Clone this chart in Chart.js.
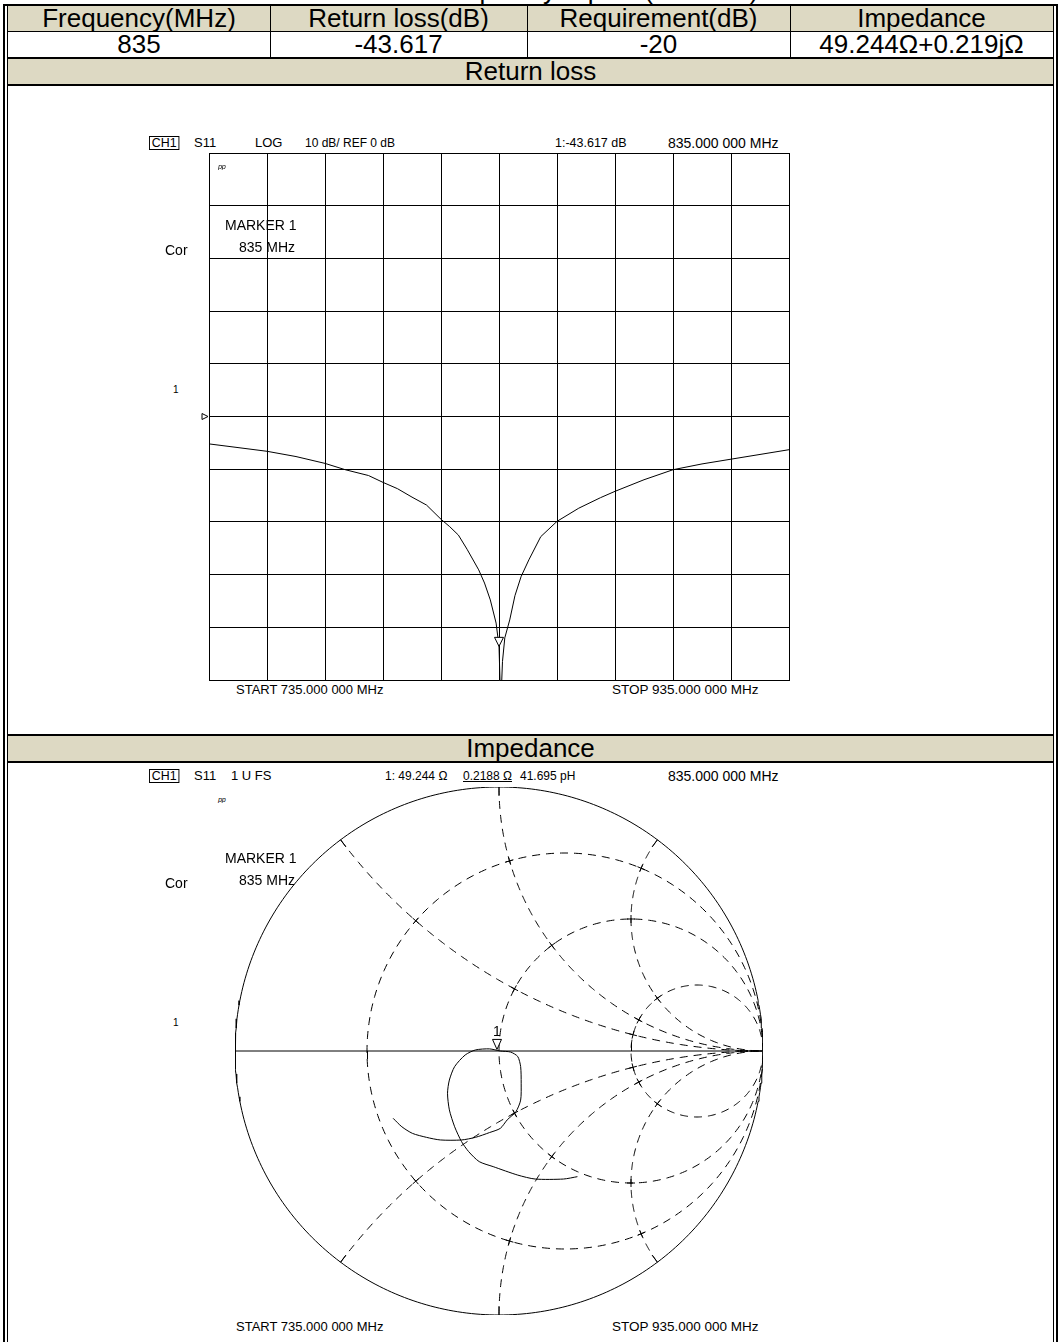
<!DOCTYPE html>
<html>
<head>
<meta charset="utf-8">
<title>Return loss and impedance</title>
<script src="https://cdn.jsdelivr.net/npm/chart.js@4.4.1/dist/chart.umd.min.js"></script>
<style>
  html, body { margin: 0; padding: 0; background: #fff; }
  #page { position: relative; width: 1059px; height: 1342px; overflow: hidden; font-family: "Liberation Sans", Arial, sans-serif; color: #000; }
  .box { position: absolute; box-sizing: border-box; }
  .line { position: absolute; background: #000; }
  .cell { position: absolute; display: flex; align-items: center; justify-content: center; font-size: 26px; white-space: nowrap; overflow: visible; }
  .tan { background: #ddd9c3; }
  .txt { position: absolute; font-size: 14px; line-height: 16px; white-space: nowrap; }
  canvas { position: absolute; }
</style>
</head>
<body>
<div id="page">
  <canvas id="rl" width="596" height="531" style="left:195px;top:151px"></canvas>
  <canvas id="smith" width="532" height="532" style="left:233px;top:785px"></canvas>
</div>
<script>
// table
var title = "Return loss plot by Dipole (835MHz)";
var headers = ["Frequency(MHz)", "Return loss(dB)", "Requirement(dB)", "Impedance"];
var values = ["835", "-43.617", "-20", "49.244Ω+0.219jΩ"];
var sections = ["Return loss", "Impedance"];

// return loss trace (MHz, dB)
var rlFreq = [735, 745, 755, 765, 775, 782, 790, 795, 800, 805, 810, 815, 818, 821, 824, 828, 830, 832, 834, 835,
  835.6, 836.2, 837, 838.7, 840.5, 842.6, 845.3, 849.4, 855, 862.5, 870, 875, 885, 895, 905, 915, 925, 935];
var rlDb = [-5.2, -5.9, -6.6, -7.6, -8.9, -10.1, -11.2, -12.5, -13.7, -15.3, -16.8, -19.5, -20.9, -22.5, -25.2, -29.1, -31.6, -34.8, -39.2, -43.6,
  -55, -46.5, -42.0, -38.6, -34.0, -30.4, -27.2, -22.8, -19.9, -17.4, -15.4, -14.2, -12.0, -10.1, -9.0, -8.1, -7.2, -6.3];
var markerFreq = 835;
var markerDb = -43.617;
var refDb = 0;

// smith trace (reflection coefficient, 735 -> 935 MHz)
var smithRe = [0.297, 0.244, 0.137, 0.071, -0.022, -0.075, -0.115, -0.142, -0.168, -0.188, -0.195, -0.188, -0.168, -0.128, -0.089, -0.036, 0.005,
  0.044, 0.071, 0.082, 0.084, 0.082, 0.064, 0.031, 0.005, -0.036, -0.089, -0.142, -0.222, -0.275, -0.328, -0.368, -0.401];
var smithIm = [-0.476, -0.485, -0.485, -0.470, -0.438, -0.419, -0.381, -0.343, -0.287, -0.223, -0.160, -0.110, -0.059, -0.015, 0.004, 0.008, 0.000,
  -0.004, -0.021, -0.059, -0.122, -0.186, -0.230, -0.261, -0.293, -0.309, -0.327, -0.337, -0.337, -0.327, -0.312, -0.287, -0.255];
var markerZ = [49.244, 0.219];
var z0 = 50;

// smith grid values
var rCircles = [1 / 3, 1, 3];
var xArcs = [0.5, 1, 2, -0.5, -1, -2];

var page = document.getElementById('page');
function add(cls, css, text) {
  var d = document.createElement('div');
  d.className = cls;
  d.style.cssText = css;
  if (text !== undefined) d.textContent = text;
  page.appendChild(d);
  return d;
}
function txt(s, x, y, size, extra) {
  return add('txt', 'left:' + x + 'px;top:' + (y - 8) + 'px;font-size:' + (size || 14) + 'px;' + (extra || ''), s);
}
function chBox(x, y) {
  txt('CH1', x, y, 13, 'top:' + (y - 7) + 'px;border:1px solid #000;line-height:12px;padding:0 2px;transform:scaleX(0.95);transform-origin:left center;');
}

// title, cut by the top edge
add('box', 'left:20px;top:-23px;width:1059px;height:26px;line-height:26px;font-size:26px;text-align:center;white-space:nowrap;', title);

// table cells
var colX = [8, 270, 527, 790, 1053];
add('box tan', 'left:8px;top:6px;width:1045px;height:25px');
headers.forEach(function (h, i) {
  add('cell', 'left:' + colX[i] + 'px;top:6px;width:' + (colX[i + 1] - colX[i]) + 'px;height:25px', h);
});
values.forEach(function (v, i) {
  add('cell', 'left:' + colX[i] + 'px;top:32px;width:' + (colX[i + 1] - colX[i]) + 'px;height:25px', v);
});
add('cell tan', 'left:8px;top:59px;width:1045px;height:25px', sections[0]);
add('cell tan', 'left:8px;top:736px;width:1045px;height:25px', sections[1]);

// borders
add('line', 'left:3px;top:4px;width:1055px;height:2px');
add('line', 'left:3px;top:4px;width:2px;height:1338px');
add('line', 'left:7px;top:6px;width:1px;height:1336px');
add('line', 'left:1053px;top:6px;width:1px;height:1336px');
add('line', 'left:1056px;top:4px;width:2px;height:1338px');
add('line', 'left:8px;top:31px;width:1045px;height:1px');
add('line', 'left:8px;top:57px;width:1045px;height:2px');
add('line', 'left:8px;top:84px;width:1045px;height:2px');
add('line', 'left:8px;top:734px;width:1045px;height:2px');
add('line', 'left:8px;top:761px;width:1045px;height:2px');
colX.slice(1, 4).forEach(function (x) {
  add('line', 'left:' + x + 'px;top:6px;width:1px;height:52px');
});

// ---- return loss chart ----
var rlMarks = {
  id: 'rlMarks',
  afterDatasetsDraw: function (chart) {
    var c = chart.ctx, xs = chart.scales.x, ys = chart.scales.y;
    var px = xs.getPixelForValue(markerFreq), py = ys.getPixelForValue(markerDb);
    c.save();
    c.strokeStyle = '#000';
    c.fillStyle = '#fff';
    c.lineWidth = 1;
    c.beginPath();
    c.moveTo(px - 4.5, py - 9);
    c.lineTo(px + 4.5, py - 9);
    c.lineTo(px, py);
    c.closePath();
    c.fill();
    c.stroke();
    // reference position marker
    var ry = ys.getPixelForValue(refDb), lx = chart.chartArea.left;
    c.beginPath();
    c.moveTo(lx - 7, ry - 3);
    c.lineTo(lx - 7, ry + 3);
    c.lineTo(lx - 1, ry);
    c.closePath();
    c.stroke();
    c.restore();
  }
};

var gridOpts = { color: '#000', lineWidth: 1, drawTicks: false };
var rlChart = new Chart(document.getElementById('rl'), {
  type: 'line',
  data: {
    datasets: [{
      data: rlFreq.map(function (f, i) { return { x: f, y: rlDb[i] }; }),
      borderColor: '#000',
      borderWidth: 1,
      pointRadius: 0,
      tension: 0
    }]
  },
  options: {
    responsive: false,
    animation: false,
    devicePixelRatio: 1,
    layout: { padding: { left: 14, top: 2, right: 2, bottom: 2 } },
    plugins: { legend: { display: false }, tooltip: { enabled: false } },
    scales: {
      x: { type: 'linear', min: 735, max: 935, ticks: { display: false, stepSize: 20 }, grid: gridOpts, border: { color: '#000', width: 1 } },
      y: { type: 'linear', min: -50, max: 50, ticks: { display: false, stepSize: 10 }, grid: gridOpts, border: { color: '#000', width: 1 } }
    }
  },
  plugins: [rlMarks]
});

// ---- smith chart ----
function rCirclePts(r) {
  var pts = [];
  for (var k = 0; k <= 360; k++) {
    var a = k * Math.PI / 180;
    pts.push({ x: r / (1 + r) + Math.cos(a) / (1 + r), y: Math.sin(a) / (1 + r) });
  }
  return pts;
}
function xArcPts(x) {
  var pts = [];
  for (var k = 0; k <= 240; k++) {
    var r = Math.tan(k / 240 * Math.PI / 2 * 0.9995);
    var d = (r + 1) * (r + 1) + x * x;
    pts.push({ x: (r * r + x * x - 1) / d, y: 2 * x / d });
  }
  return pts;
}
function gammaRX(r, x) {
  var d = (r + 1) * (r + 1) + x * x;
  return { x: (r * r + x * x - 1) / d, y: 2 * x / d };
}
var dashed = { borderColor: '#000', borderWidth: 1, borderDash: [8, 6], pointRadius: 0, showLine: true, fill: false };
var smithSets = [];
rCircles.forEach(function (r) { smithSets.push(Object.assign({ data: rCirclePts(r) }, dashed)); });
xArcs.forEach(function (x) { smithSets.push(Object.assign({ data: xArcPts(x) }, dashed)); });
smithSets.push({ data: rCirclePts(0), borderColor: '#000', borderWidth: 1, pointRadius: 0, showLine: true });
smithSets.push({ data: [{ x: -1, y: 0 }, { x: 1, y: 0 }], borderColor: '#000', borderWidth: 1, pointRadius: 0, showLine: true });
smithSets.push({
  data: smithRe.map(function (v, i) { return { x: v, y: smithIm[i] }; }),
  borderColor: '#000', borderWidth: 1, pointRadius: 0, showLine: true, tension: 0.25
});

var mg = gammaRX(markerZ[0] / z0, markerZ[1] / z0);

var smithMarks = {
  id: 'smithMarks',
  afterDatasetsDraw: function (chart) {
    var c = chart.ctx, xs = chart.scales.x, ys = chart.scales.y;
    function P(g) { return { x: xs.getPixelForValue(g.x), y: ys.getPixelForValue(g.y) }; }
    function seg(p, centre, len) {
      // short solid piece along the curve whose centre is given
      var vx = p.x - centre.x, vy = p.y - centre.y, n = Math.hypot(vx, vy);
      var tx = -vy / n * len, ty = vx / n * len;
      c.moveTo(p.x - tx, p.y - ty);
      c.lineTo(p.x + tx, p.y + ty);
    }
    c.save();
    c.strokeStyle = '#000';
    c.lineWidth = 1;
    c.beginPath();
    var o = P({ x: 0, y: 0 });
    // radial ticks where reactance arcs meet the rim
    xArcs.forEach(function (x) {
      var p = P(gammaRX(0, x)), n = Math.hypot(p.x - o.x, p.y - o.y);
      c.moveTo(p.x, p.y);
      c.lineTo(p.x - (p.x - o.x) / n * 9, p.y - (p.y - o.y) / n * 9);
    });
    // ticks on the real axis at the resistance circles
    rCircles.forEach(function (r) {
      var g = (r - 1) / (r + 1);
      if (Math.abs(g) < 1e-9) return;
      var p = P({ x: g, y: 0 }), px = Math.round(p.x) + 0.5;
      c.moveTo(px, p.y);
      c.lineTo(px, p.y + (g < 0 ? 8 : -8));
    });
    // small solid crosses at grid intersections
    rCircles.forEach(function (r) {
      xArcs.forEach(function (x) {
        var p = P(gammaRX(r, x));
        seg(p, P({ x: r / (1 + r), y: 0 }), 4);
        seg(p, P({ x: 1, y: 1 / x }), 4);
      });
    });
    c.stroke();
    // marker 1
    var m = P(mg);
    c.fillStyle = '#fff';
    c.beginPath();
    c.moveTo(m.x - 4.5, m.y - 11);
    c.lineTo(m.x + 4.5, m.y - 11);
    c.lineTo(m.x, m.y - 1);
    c.closePath();
    c.fill();
    c.stroke();
    c.restore();
  }
};

var smithChart = new Chart(document.getElementById('smith'), {
  type: 'scatter',
  data: { datasets: smithSets },
  options: {
    responsive: false,
    animation: false,
    devicePixelRatio: 1,
    layout: { padding: 2 },
    plugins: { legend: { display: false }, tooltip: { enabled: false } },
    scales: {
      x: { type: 'linear', min: -1, max: 1, display: false },
      y: { type: 'linear', min: -1, max: 1, display: false }
    }
  },
  plugins: [smithMarks]
});

// ---- instrument annotations ----
function panelText(dy, line2) {
  chBox(149, 143 + dy);
  txt('S11', 194, 143 + dy, 13);
  line2.forEach(function (p) { txt(p[0], p[1], 143 + dy, p[2] || 13, p[3] || ''); });
  txt('ᵖᵖ', 218, 168 + dy, 10, 'font-style:italic;');
  txt('MARKER 1', 225, 225 + dy);
  txt('835 MHz', 239, 247 + dy);
  txt('Cor', 165, 250 + dy);
  txt('1', 173, 390 + dy, 10);
}
panelText(0, [['LOG', 255], ['10 dB/  REF 0 dB', 305, 12], ['1:-43.617 dB', 555, 12.5], ['835.000 000 MHz', 668, 14]]);
txt('START 735.000 000 MHz', 236, 690, 13);
txt('STOP 935.000 000 MHz', 612, 690, 13.5);

panelText(633, [['1 U FS', 231], ['1: 49.244 Ω', 385, 12], ['0.2188 Ω', 463, 12, 'text-decoration:underline;'], ['41.695 pH', 520, 12], ['835.000 000 MHz', 668, 14]]);
txt('START 735.000 000 MHz', 236, 1327, 13);
txt('STOP 935.000 000 MHz', 612, 1327, 13.5);

// marker number above the smith marker
var sc = document.getElementById('smith');
var mpx = smithChart.scales.x.getPixelForValue(mg.x) + sc.offsetLeft;
var mpy = smithChart.scales.y.getPixelForValue(mg.y) + sc.offsetTop;
txt('1', mpx - 4, mpy - 19, 14);
</script>
</body>
</html>
